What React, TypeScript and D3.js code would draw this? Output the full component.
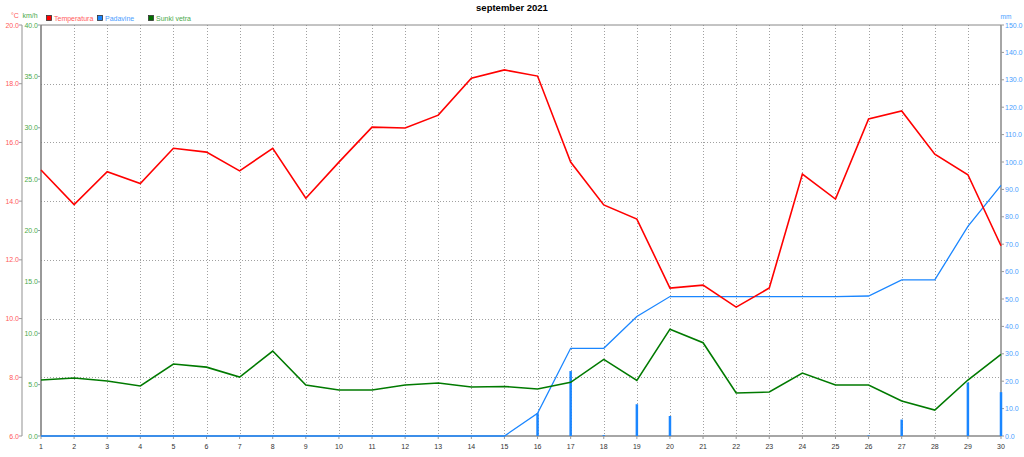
import React from "react";
import * as d3 from "d3";

const days = d3.range(1, 31);
const temperature = [15.06, 13.88, 15.0, 14.6, 15.8, 15.67, 15.03, 15.8, 14.1, 15.33, 16.52, 16.49, 16.93, 18.19, 18.47, 18.26, 15.33, 13.87, 13.39, 11.04, 11.14, 10.39, 11.04, 14.92, 14.07, 16.8, 17.07, 15.6, 14.9, 12.48];
const gusts = [5.45, 5.64, 5.35, 4.87, 7.0, 6.7, 5.74, 8.27, 4.96, 4.48, 4.48, 4.96, 5.16, 4.77, 4.82, 4.57, 5.22, 7.46, 5.42, 10.4, 9.08, 4.18, 4.28, 6.13, 4.96, 4.96, 3.4, 2.53, 5.45, 7.95];
const precipDaily = [0, 0, 0, 0, 0, 0, 0, 0, 0, 0, 0, 0, 0, 0, 0, 8.3, 23.7, 0.3, 11.6, 7.3, 0, 0, 0, 0, 0, 0.2, 6.0, 0, 19.5, 16.0];
const precipCumulative = [0, 0, 0, 0, 0, 0, 0, 0, 0, 0, 0, 0, 0, 0, 0, 8.3, 32.0, 32.0, 43.6, 50.9, 50.9, 50.9, 50.9, 50.9, 50.9, 51.1, 57.0, 57.0, 76.5, 91.5];
const tempTicks = [6, 8, 10, 12, 14, 16, 18, 20];
const windTicks = [0, 5, 10, 15, 20, 25, 30, 35, 40];
const precipTicks = d3.range(0, 151, 10);
const title = "september 2021";

const W = 1024, H = 457;
const L = 41, R = 1001, T = 25, B = 436;
const RED = "#ff0000", RED_T = "#ff5a5a";
const BLUE = "#1a86ff", BLUE_T = "#4a9eff";
const GREEN = "#007a00", GREEN_T = "#4aaa4a";
const FONT = "'Liberation Sans', Arial, sans-serif";

export default function App() {
  const x = d3.scaleLinear().domain([1, 30]).range([L, R]);
  const yT = d3.scaleLinear().domain([6, 20]).range([B, T]);
  const yW = d3.scaleLinear().domain([0, 40]).range([B, T]);
  const yP = d3.scaleLinear().domain([0, 150]).range([B, T]);
  const lineT = d3.line<number>().x((_, i) => x(days[i])).y((d) => yT(d));
  const lineW = d3.line<number>().x((_, i) => x(days[i])).y((d) => yW(d));
  const lineP = d3.line<number>().x((_, i) => x(days[i])).y((d) => yP(d));
  const px = (v: number) => Math.round(v) + 0.5;

  return (
    <svg width={W} height={H} style={{ position: "absolute", left: 0, top: 0, background: "#fff" }} fontFamily={FONT}>
      <rect x={0} y={0} width={W} height={H} fill="#fff" />
      <text x={512} y={11} textAnchor="middle" fontSize={9.5} fontWeight="bold" fill="#000">{title}</text>
      {/* units */}
      <text x={15} y={18} textAnchor="middle" fontSize={7} fill={RED_T}>°C</text>
      <text x={30} y={18} textAnchor="middle" fontSize={7} fill={GREEN_T}>km/h</text>
      <text x={1006} y={19} textAnchor="middle" fontSize={6.5} fill={BLUE_T}>mm</text>
      {/* legend */}
      {[
        { c: RED, tc: RED_T, t: "Temperatura", x0: 46 },
        { c: BLUE, tc: BLUE_T, t: "Padavine", x0: 97 },
        { c: "#007000", tc: GREEN_T, t: "Sunki vetra", x0: 148 },
      ].map((l) => (
        <g key={l.t}>
          <rect x={l.x0 + 0.5} y={15.5} width={5} height={5} fill={l.c} stroke="#333" strokeWidth={0.8} />
          <text x={l.x0 + 8} y={21} fontSize={7} fill={l.tc}>{l.t}</text>
        </g>
      ))}
      {/* grid */}
      <g shapeRendering="crispEdges">
        {days.slice(1, -1).map((d) => (
          <line key={"vg" + d} x1={px(x(d))} x2={px(x(d))} y1={T} y2={B} stroke="#a0a0a0" strokeDasharray="1,2" strokeWidth={1} />
        ))}
        {tempTicks.slice(1, -1).map((t) => (
          <line key={"hg" + t} x1={L} x2={R} y1={px(yT(t))} y2={px(yT(t))} stroke="#a0a0a0" strokeDasharray="1,2" strokeWidth={1} />
        ))}
      </g>
      {/* frame */}
      <line x1={L} x2={R} y1={T} y2={T} stroke="#888" strokeWidth={1} />
      <line x1={L} x2={R} y1={B} y2={B} stroke="#888" strokeWidth={1.5} />
      <line x1={L} x2={L} y1={T} y2={B} stroke="#777" strokeWidth={1.5} />
      <line x1={R} x2={R} y1={T} y2={B} stroke="#888" strokeWidth={1.5} />
      {/* temp axis */}
      <line x1={22} x2={22} y1={T} y2={B} stroke="#c8c8c8" strokeWidth={2} />
      {tempTicks.map((t) => (
        <g key={"tt" + t}>
          <line x1={19} x2={22} y1={yT(t)} y2={yT(t)} stroke="#999" />
          <text x={19} y={yT(t) + 2.5} textAnchor="end" fontSize={7} fill={RED_T}>{t.toFixed(1)}</text>
        </g>
      ))}
      {windTicks.map((t) => (
        <g key={"wt" + t}>
          <line x1={38} x2={41} y1={yW(t)} y2={yW(t)} stroke="#999" />
          <text x={38} y={yW(t) + 2.5} textAnchor="end" fontSize={7} fill={GREEN_T}>{t.toFixed(1)}</text>
        </g>
      ))}
      {precipTicks.map((t) => (
        <g key={"pt" + t}>
          <line x1={R} x2={R + 3} y1={yP(t)} y2={yP(t)} stroke="#999" />
          <text x={R + 4} y={yP(t) + 2.5} textAnchor="start" fontSize={7} fill={BLUE_T}>{t.toFixed(1)}</text>
        </g>
      ))}
      {days.map((d) => (
        <g key={"xt" + d}>
          <line x1={x(d)} x2={x(d)} y1={B} y2={B + 3} stroke="#999" />
          <text x={x(d)} y={B + 13} textAnchor="middle" fontSize={7} fill="#333">{d}</text>
        </g>
      ))}
      {/* precip bars */}
      {precipDaily.map((p, i) =>
        p > 0 ? (
          <line key={"pb" + i} x1={x(days[i])} x2={x(days[i])} y1={yP(0)} y2={yP(p)} stroke={BLUE} strokeWidth={2.5} />
        ) : null
      )}
      <path d={lineP(precipCumulative) || ""} fill="none" stroke={BLUE} strokeWidth={1.3} />
      <path d={lineW(gusts) || ""} fill="none" stroke={GREEN} strokeWidth={1.6} />
      <path d={lineT(temperature) || ""} fill="none" stroke={RED} strokeWidth={1.6} />
    </svg>
  );
}
